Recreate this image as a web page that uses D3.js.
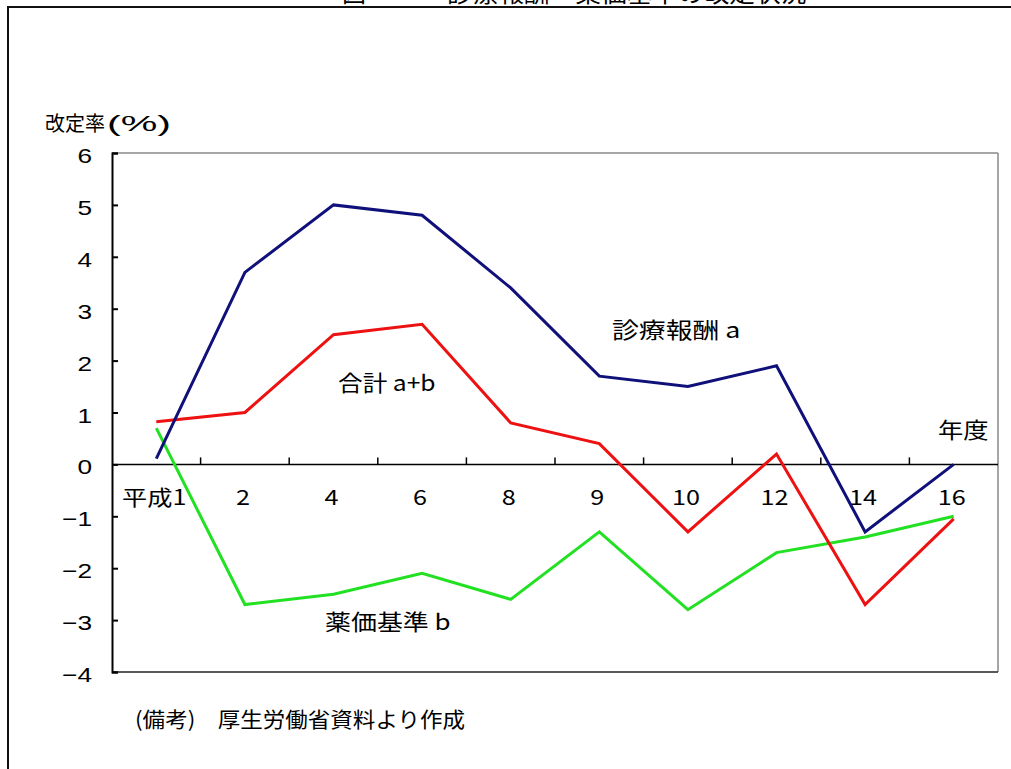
<!DOCTYPE html>
<html>
<head>
<meta charset="utf-8">
<script src="https://cdn.jsdelivr.net/npm/d3@7"></script>
<style>
  body { margin: 0; background: #fff; }
  svg { display: block; }
  text { font-family: "Liberation Sans", "Noto Sans CJK JP", sans-serif; fill: #000; }
  .jp { font-family: "Noto Sans CJK JP", "Liberation Sans", sans-serif; }
</style>
</head>
<body>
<svg id="chart" width="1011" height="769"></svg>
<script>
// 改定年度（平成）
const categories = ["平成1", "2", "4", "6", "8", "9", "10", "12", "14", "16"];
// 診療報酬 a（%）
const feeRevision = [0.11, 3.7, 5.0, 4.8, 3.4, 1.7, 1.5, 1.9, -1.3, 0.0];
// 合計 a+b（%）
const totalRevision = [0.82, 1.0, 2.5, 2.7, 0.8, 0.4, -1.3, 0.2, -2.7, -1.05];
// 薬価基準 b（%）
const drugPrice = [0.7, -2.7, -2.5, -2.1, -2.6, -1.3, -2.8, -1.7, -1.4, -1.0];
// 縦軸目盛
const yTicks = [-4, -3, -2, -1, 0, 1, 2, 3, 4, 5, 6];

const svg = d3.select("#chart");
const plot = { left: 112, right: 998, top: 153, bottom: 672 };

const x = d3.scaleBand().domain(categories).range([plot.left, plot.right]);
const y = d3.scaleLinear().domain([-4, 6]).range([plot.bottom, plot.top]);

// horizontally stretched text helper
function label(px, py, str, size, anchor, sx, cls) {
  return svg.append("text")
    .attr("class", cls || null)
    .attr("transform", `translate(${px},${py}) scale(${sx},1)`)
    .attr("text-anchor", anchor)
    .style("font-size", size + "px")
    .text(str);
}

// text fitted to a given width
function fitted(px, py, str, size, width, cls) {
  return svg.append("text")
    .attr("class", cls || null)
    .attr("x", px).attr("y", py)
    .attr("textLength", width)
    .attr("lengthAdjust", "spacingAndGlyphs")
    .style("font-size", size + "px")
    .text(str);
}

// outer frame
svg.append("rect")
  .attr("x", 8).attr("y", 7)
  .attr("width", 1011).attr("height", 800)
  .attr("fill", "none").attr("stroke", "#111").attr("stroke-width", 2);

// title (top edge)
label(342, 2, "図", 24, "start", 1, "jp");
label(447, 2, "診療報酬・薬価基準の改定状況", 24, "start", 1.07, "jp");

// plot area border
svg.append("line").attr("x1", plot.left).attr("x2", plot.right)
  .attr("y1", plot.top).attr("y2", plot.top).attr("stroke", "#888").attr("stroke-width", 1.5);
svg.append("line").attr("x1", plot.right).attr("x2", plot.right)
  .attr("y1", plot.top).attr("y2", plot.bottom).attr("stroke", "#888").attr("stroke-width", 1.5);
svg.append("line").attr("x1", plot.left).attr("x2", plot.right)
  .attr("y1", plot.bottom).attr("y2", plot.bottom).attr("stroke", "#222").attr("stroke-width", 1.5);

// y axis with inward ticks
const yAxis = d3.axisRight(y).tickValues(yTicks).tickSize(6).tickFormat("");
const yg = svg.append("g").attr("transform", `translate(${plot.left},0)`).call(yAxis);
yg.select(".domain").attr("stroke", "#000").attr("stroke-width", 2);
yg.selectAll(".tick line").attr("stroke", "#000").attr("stroke-width", 2);

yTicks.forEach(v => {
  label(92, y(v) + 10, v < 0 ? "\u2212" + Math.abs(v) : String(v), 21, "end", 1.25);
});

// x axis along zero with upward ticks at category boundaries
const boundaries = categories.slice(1).map(c => x(c));
svg.append("line").attr("x1", plot.left).attr("x2", plot.right)
  .attr("y1", y(0)).attr("y2", y(0)).attr("stroke", "#000").attr("stroke-width", 1.5);
svg.selectAll(".xtick").data(boundaries).join("line")
  .attr("class", "xtick")
  .attr("x1", d => d).attr("x2", d => d)
  .attr("y1", y(0)).attr("y2", y(0) - 7)
  .attr("stroke", "#000").attr("stroke-width", 1.5);

categories.forEach(c => {
  label(x(c) + x.bandwidth() / 2 - 2, 505, c, 21, "middle", 1.2, "jp");
});

// series lines
const line = d3.line()
  .x((d, i) => x(categories[i]) + x.bandwidth() / 2)
  .y(d => y(d));

const series = [
  { values: drugPrice, color: "#22e022" },
  { values: totalRevision, color: "#ee1111" },
  { values: feeRevision, color: "#10107a" }
];
svg.selectAll(".series").data(series).join("path")
  .attr("class", "series")
  .attr("d", d => line(d.values))
  .attr("fill", "none")
  .attr("stroke", d => d.color)
  .attr("stroke-width", 3)
  .attr("stroke-linejoin", "miter");

// annotations
fitted(45, 131, "改定率", 20, 60, "jp");
fitted(107, 131, "(%)", 22, 64);
label(612, 338, "診療報酬 a", 22, "start", 1.22, "jp");
label(338, 391, "合計 a+b", 22, "start", 1.12, "jp");
label(325, 630, "薬価基準 b", 22, "start", 1.18, "jp");
label(938, 438, "年度", 22, "start", 1.15, "jp");
fitted(135, 727, "(備考)　厚生労働省資料より作成", 21, 330, "jp");
</script>
</body>
</html>
